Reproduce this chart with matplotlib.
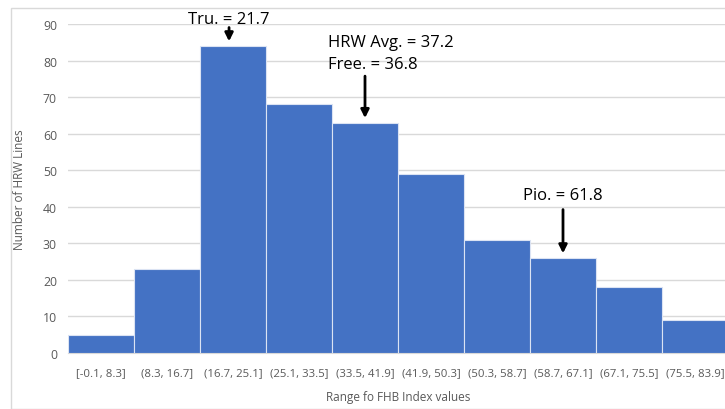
import matplotlib.pyplot as plt
from matplotlib.patches import Rectangle

# histogram of FHB index values
bins = ['[-0.1, 8.3]', '(8.3, 16.7]', '(16.7, 25.1]', '(25.1, 33.5]', '(33.5, 41.9]',
        '(41.9, 50.3]', '(50.3, 58.7]', '(58.7, 67.1]', '(67.1, 75.5]', '(75.5, 83.9]']
counts = [5, 23, 84, 68, 63, 49, 31, 26, 18, 9]

# annotations: label, bar position, arrow tip height
notes = [('Tru. = 21.7', 1.94, 84), ('HRW Avg. = 37.2\nFree. = 36.8', 4.0, 63), ('Pio. = 61.8', 7.0, 26)]

plt.rcParams['font.family'] = ['Open Sans', 'DejaVu Sans']

fig = plt.figure(figsize=(7.25, 4.1), dpi=100)
ax = fig.add_axes([68 / 725, 1 - 354 / 410, 660 / 725, 329 / 410])

# chart frame like the Excel chart area
fig.patches.append(Rectangle((11 / 725, 0), 1.0, 1 - 9 / 410, transform=fig.transFigure,
                             fill=False, edgecolor='#d9d9d9', linewidth=1))

ax.bar(range(len(counts)), counts, width=1.0, color='#4472C4', edgecolor='#dbe3f3', linewidth=0.8, zorder=3)

ax.set_xlim(-0.5, len(counts) - 0.5)
ax.set_ylim(0, 90)
ax.set_yticks(range(0, 91, 10))
ax.set_xticks(range(len(counts)))
ax.set_xticklabels(bins)
ax.grid(axis='y', color='#d9d9d9', linewidth=1, zorder=0)
for s in ['top', 'right', 'left']:
    ax.spines[s].set_visible(False)
ax.spines['bottom'].set_color('#d9d9d9')
ax.tick_params(length=0, colors='#595959', labelsize=8.8)
ax.tick_params(axis='x', pad=10, labelsize=8.2)
ax.tick_params(axis='y', pad=8)

ax.set_ylabel('Number of HRW Lines', color='#595959', fontsize=8.5, labelpad=12)
ax.set_xlabel('Range fo FHB Index values', color='#595959', fontsize=8.5, labelpad=9)

# arrows with labels
ax.annotate('', xy=(notes[0][1], notes[0][2] + 0.5), xytext=(notes[0][1], 89.8),
            arrowprops=dict(arrowstyle='-|>', color='black', lw=2, mutation_scale=12), annotation_clip=False)
ax.text(notes[0][1], 89.2, notes[0][0], ha='center', va='bottom', fontsize=12, color='black')

ax.annotate('', xy=(notes[1][1], notes[1][2] + 0.5), xytext=(notes[1][1], 76.5),
            arrowprops=dict(arrowstyle='-|>', color='black', lw=2, mutation_scale=12))
ax.text(3.44, 77, notes[1][0], ha='left', va='bottom', fontsize=12, color='black', linespacing=1.5)

ax.annotate('', xy=(notes[2][1], notes[2][2] + 0.5), xytext=(notes[2][1], 40),
            arrowprops=dict(arrowstyle='-|>', color='black', lw=2, mutation_scale=12))
ax.text(notes[2][1], 41, notes[2][0], ha='center', va='bottom', fontsize=12, color='black')

fig.savefig('out.png', dpi=100)
